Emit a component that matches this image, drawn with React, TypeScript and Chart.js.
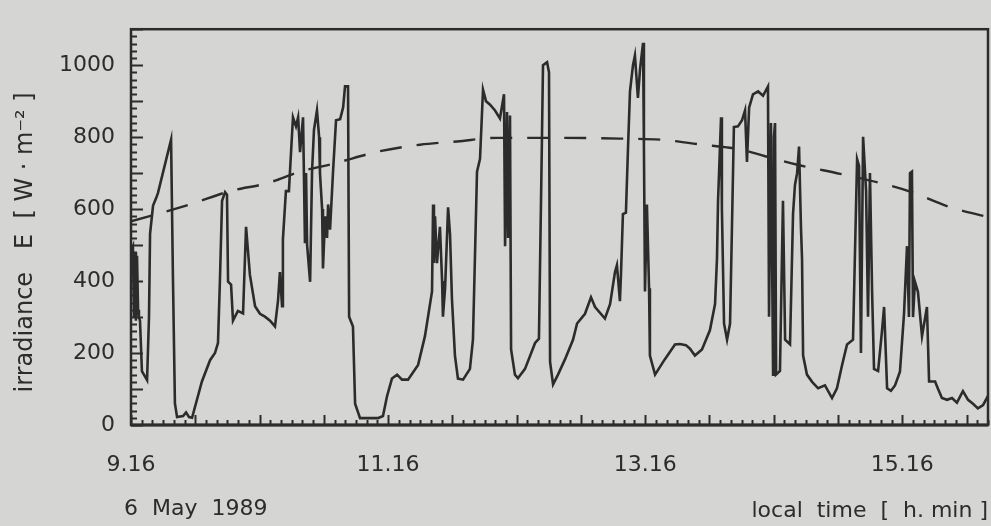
import React, { useEffect, useRef } from "react";
import { Chart, registerables } from "chart.js";

Chart.register(...registerables);

// minutes after 9.16 local time
const timeMin = [
  0, 0.9, 1.4, 1.9, 2.3, 2.8, 3.3, 3.7, 4.2, 5.1,
  7.5, 8.4, 8.9, 10.3, 11.7, 12.6, 18.7, 19.6, 20.5, 21.5,
  24.3, 25.7, 27.1, 28.5, 33.1, 36.9, 39.2, 40.6, 41.5, 42.5,
  43.9, 44.8, 45.3, 46.7, 47.6, 49.9, 52.3, 53.7, 55.5, 57.9,
  60.2, 62.5, 64.9, 67.2, 68.6, 69.5, 70.5, 70.9, 72.3, 73.7,
  75.6, 77.0, 78.0, 78.9, 80.3, 81.2, 81.7, 82.2, 83.6, 84.5,
  85.4, 86.8, 87.8, 88.2, 89.2, 89.6, 90.6, 91.5, 92.0, 92.9,
  94.3, 95.7, 97.6, 99.0, 99.9, 101.3, 101.8, 103.6, 104.6, 106.9,
  115.3, 117.6, 119.5, 121.8, 124.2, 126.5, 129.3, 134.0, 137.2, 140.5,
  141.0, 141.4, 141.9, 142.8, 144.2, 145.2, 145.6, 146.6, 148.0, 148.9,
  149.8, 151.2, 152.6, 155.0, 158.2, 159.6, 161.5, 162.9, 164.3, 165.7,
  167.6, 169.9, 172.2, 174.1, 174.6, 175.5, 176.0, 176.9, 177.4, 179.2,
  180.6, 183.9, 188.6, 190.4, 191.8, 192.3, 194.2, 195.1, 195.6, 197.0,
  199.3, 202.6, 206.3, 208.2, 211.9, 214.7, 216.6, 221.2, 223.6, 225.9,
  226.8, 228.2, 228.7, 229.6, 231.0, 232.0, 232.9, 234.3, 235.2, 236.6,
  237.6, 239.0, 239.4, 239.9, 240.8, 241.8, 242.2, 244.6, 249.2, 253.9,
  256.2, 259.0, 260.9, 263.2, 266.5, 270.2, 272.6, 273.5, 274.0, 275.4,
  275.8, 276.8, 278.2, 279.6, 280.5, 281.4, 283.3, 285.2, 286.6, 287.5,
  288.5, 290.3, 292.7, 295.0, 297.3, 297.8, 298.7, 299.7, 300.1, 300.6,
  301.1, 302.9, 304.3, 305.3, 307.6, 309.0, 309.9, 310.9, 311.8, 312.7,
  313.2, 313.7, 315.5, 317.9, 320.7, 323.9, 327.2, 329.5, 331.9, 334.2,
  337.0, 338.9, 339.8, 340.7, 341.7, 343.1, 344.0, 344.9, 345.9, 346.8,
  348.7, 350.5, 351.5, 352.9, 354.7, 356.6, 358.9, 360.8, 362.2, 363.1,
  363.6, 364.5, 365.0, 365.9, 367.3, 369.2, 371.5, 372.5, 375.3, 376.7,
  378.5, 380.9, 383.2, 385.5, 388.3, 390.7, 393.0, 395.3, 397.7, 400,
];

// measured global irradiance E [W m^-2]
const irradiance = [
  480, 495, 300, 480, 290, 470, 320, 300, 290, 150,
  125, 300, 532, 610, 630, 645, 793, 400, 60, 22,
  25, 35, 22, 20, 121, 180, 200, 228, 400, 623,
  647, 640, 398, 390, 290, 317, 310, 551, 417, 330,
  309, 301, 290, 274, 344, 425, 330, 516, 650, 650,
  855, 830, 855, 758, 855, 505, 700, 500, 398, 704,
  820, 874, 800, 700, 600, 435, 580, 520, 613, 543,
  704, 847, 850, 882, 941, 941, 301, 274, 59, 19,
  19, 25, 80, 129, 140, 126, 126, 167, 247, 371,
  613, 450, 580, 450, 551, 400, 301, 380, 605, 530,
  350, 193, 129, 126, 156, 237, 704, 740, 932, 900,
  890, 874, 852, 919, 497, 870, 520, 860, 210, 140,
  130, 156, 228, 240, 793, 1000, 1008, 980, 175, 113,
  140, 183, 237, 282, 309, 355, 328, 296, 336, 425,
  444, 344, 420, 586, 590, 774, 927, 1000, 1027, 909,
  989, 1062, 774, 371, 613, 380, 193, 140, 183, 224,
  225, 222, 212, 193, 210, 263, 336, 462, 623, 855,
  600, 282, 237, 282, 551, 828, 830, 847, 874, 731,
  882, 919, 927, 915, 941, 301, 839, 140, 800, 839,
  140, 150, 623, 237, 224, 586, 667, 700, 774, 550,
  462, 193, 140, 120, 102, 110, 75, 102, 167, 224,
  237, 739, 720, 200, 801, 650, 301, 700, 371, 156,
  150, 260, 328, 102, 95, 110, 148, 309, 497, 300,
  700, 704, 300, 398, 370, 247, 328, 121, 121, 100,
  75, 70, 75, 62, 94, 70, 59, 46, 55, 81,
];

// clear-sky irradiance (dashed curve)
const clearMin = [0, 27.5, 46.2, 63.5, 78.9, 94.3, 116.2, 134.9, 152.2, 170.8, 200, 228.2, 246.9, 265.6, 284.2, 296, 312, 331, 350, 364, 382, 400];
const clearSky = [566, 613, 650, 672, 704, 726, 761, 779, 788, 798, 798, 796, 793, 780, 766, 747, 722, 698, 672, 648, 606, 578];

const xTickValues = [0, 120, 240, 360];
const xTickLabels = ["9.16", "11.16", "13.16", "15.16"];
const yTickValues = [0, 200, 400, 600, 800, 1000];

const INK = "#2c2c2c";
const BG = "#d5d5d3";
const FONT = "'DejaVu Sans', 'Liberation Sans', sans-serif";

const framePlugin = {
  id: "frame",
  afterDatasetsDraw(chart: any) {
    const { ctx, chartArea: a, scales } = chart;
    const x = scales.x;
    const y = scales.y;
    ctx.save();
    ctx.strokeStyle = INK;
    ctx.lineWidth = 2.5;
    ctx.strokeRect(a.left, a.top, a.right - a.left, a.bottom - a.top);
    ctx.lineWidth = 3;
    ctx.beginPath();
    ctx.moveTo(a.left, a.bottom);
    ctx.lineTo(a.right, a.bottom);
    ctx.stroke();
    ctx.lineWidth = 2;
    ctx.beginPath();
    for (let m = 0; m <= 400; m += 5) {
      const px = Math.round(x.getPixelForValue(m)) + 0.5;
      const len = m % 30 === 0 ? 10 : 5;
      ctx.moveTo(px, a.bottom);
      ctx.lineTo(px, a.bottom - len);
    }
    for (let v = 0; v <= 1100; v += 20) {
      const py = Math.round(y.getPixelForValue(v)) + 0.5;
      const len = v % 100 === 0 ? 12 : 6;
      ctx.moveTo(a.left, py);
      ctx.lineTo(a.left + len, py);
    }
    ctx.stroke();
    ctx.fillStyle = INK;
    ctx.font = `22px ${FONT}`;
    ctx.textAlign = "left";
    ctx.textBaseline = "middle";
    ctx.fillText("6  May  1989", 124, 509);
    ctx.restore();
  },
};

export default function App() {
  const ref = useRef<HTMLCanvasElement | null>(null);
  useEffect(() => {
    if (!ref.current) return;
    const chart = new Chart(ref.current, {
      type: "line",
      data: {
        datasets: [
          {
            label: "irradiance",
            data: timeMin.map((t, i) => ({ x: t, y: irradiance[i] })),
            borderColor: INK,
            borderWidth: 2.6,
            pointRadius: 0,
            tension: 0,
            fill: false,
          },
          {
            label: "clear sky",
            data: clearMin.map((t, i) => ({ x: t, y: clearSky[i] })),
            borderColor: INK,
            borderWidth: 2.4,
            borderDash: [22, 15],
            pointRadius: 0,
            tension: 0.4,
            cubicInterpolationMode: "monotone",
            fill: false,
          },
        ],
      },
      options: {
        animation: false,
        responsive: true,
        maintainAspectRatio: false,
        layout: { padding: { left: 0, top: 13, right: 3, bottom: 0 } },
        plugins: { legend: { display: false }, tooltip: { enabled: false } },
        scales: {
          x: {
            type: "linear",
            min: 0,
            max: 400,
            afterFit: (s: any) => { s.height = 101; },
            grid: { display: false, drawTicks: false },
            border: { display: false },
            afterBuildTicks: (s: any) => { s.ticks = xTickValues.map((v) => ({ value: v })); },
            ticks: {
              autoSkip: false,
              maxRotation: 0,
              padding: 27,
              color: INK,
              font: { family: FONT, size: 22 },
              callback: (v: any) => {
                const i = xTickValues.indexOf(Number(v));
                return i >= 0 ? xTickLabels[i] : "";
              },
            },
            title: {
              display: true,
              text: "local  time  [  h. min ]",
              align: "end",
              color: INK,
              font: { family: FONT, size: 22 },
              padding: { top: 0, bottom: 2 },
            },
          },
          y: {
            min: 0,
            max: 1100,
            afterFit: (s: any) => { s.width = 131; },
            grid: { display: false, drawTicks: false },
            border: { display: false },
            afterBuildTicks: (s: any) => { s.ticks = yTickValues.map((v) => ({ value: v })); },
            ticks: {
              padding: 16,
              color: INK,
              font: { family: FONT, size: 22 },
              callback: (v: any) => String(v),
            },
            title: {
              display: true,
              text: "irradiance   E  [ W · m⁻² ]    ",
              color: INK,
              font: { family: FONT, size: 24 },
              padding: { top: 11, bottom: 0 },
            },
          },
        },
      },
      plugins: [framePlugin],
    } as any);
    return () => chart.destroy();
  }, []);
  return (
    <div style={{ position: "fixed", left: 0, top: 0, width: 991, height: 526, background: BG }}>
      <canvas ref={ref} />
    </div>
  );
}
